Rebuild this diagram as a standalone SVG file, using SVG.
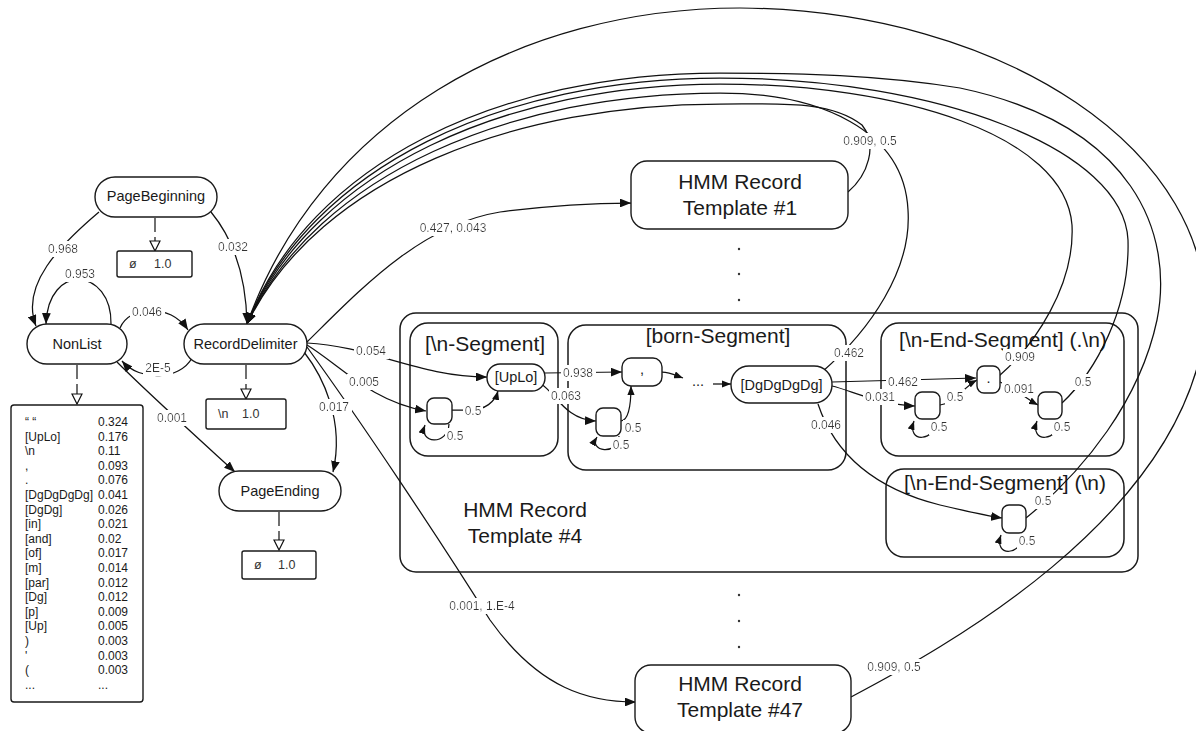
<svg xmlns="http://www.w3.org/2000/svg" width="1196" height="731" viewBox="0 0 1196 731">
<style>
  .node { fill: #fff; stroke: #1a1a1a; stroke-width: 1.4; }
  .box { fill: #fff; stroke: #1a1a1a; stroke-width: 1.4; }
  .cont { fill: none; stroke: #1a1a1a; stroke-width: 1.5; }
  .edge { fill: none; stroke: #111; stroke-width: 1.25; }
  .arr { marker-end: url(#head); }
  .sarr { marker-end: url(#shead); }
  .dash { fill: none; stroke: #111; stroke-width: 1.2; stroke-dasharray: 14 5; marker-end: url(#open); }
  text { font-family: "Liberation Sans", Arial, sans-serif; fill: #1a1a1a; }
  .nt { font-size: 14.5px; text-anchor: middle; }
  .big { font-size: 21px; text-anchor: middle; }
  .lbl { font-size: 12px; fill: #333; text-anchor: middle; filter: url(#bg); }
  .tb { font-size: 12px; fill: #333; }
  .bx { font-size: 12.5px; fill: #333; }
</style>
<defs>
  <!-- white plate behind transition labels -->
  <filter id="bg" x="-0.06" y="-0.05" width="1.12" height="1.1">
    <feFlood flood-color="#fff"/>
    <feComposite in="SourceGraphic" operator="over"/>
  </filter>
  <marker id="head" viewBox="0 0 10 8" refX="10" refY="4" markerWidth="11" markerHeight="8.8" markerUnits="userSpaceOnUse" orient="auto">
    <path d="M0,0 L10,4 L0,8 z" fill="#111"/>
  </marker>
  <marker id="shead" viewBox="0 0 10 8" refX="10" refY="4" markerWidth="9" markerHeight="7.2" markerUnits="userSpaceOnUse" orient="auto">
    <path d="M0,0 L10,4 L0,8 z" fill="#111"/>
  </marker>
  <marker id="open" viewBox="-1 -1 12 12" refX="10" refY="5" markerWidth="12" markerHeight="12" markerUnits="userSpaceOnUse" orient="auto">
    <path d="M0,0 L10,5 L0,10 z" fill="#fff" stroke="#111" stroke-width="1.2"/>
  </marker>
</defs>

<!-- containers -->
<g id="template4">
  <rect class="cont" x="400" y="313" width="738" height="259" rx="16"/>
  <text class="big" x="525" y="517">HMM Record</text>
  <text class="big" x="525" y="543">Template #4</text>
</g>
<g id="seg-newline">
  <rect class="cont" x="410" y="323" width="148" height="133" rx="18"/>
  <text class="big" x="485" y="351">[\n-Segment]</text>
</g>
<g id="seg-born">
  <rect class="cont" x="568" y="325" width="278" height="145" rx="18"/>
  <text class="big" x="718" y="343">[born-Segment]</text>
</g>
<g id="seg-end-dot">
  <rect class="cont" x="881" y="323" width="243" height="133" rx="18"/>
  <text class="big" x="1003" y="347">[\n-End-Segment] (.\n)</text>
</g>
<g id="seg-end-nl">
  <rect class="cont" x="886" y="469" width="238" height="88" rx="18"/>
  <text class="big" x="1005" y="490">[\n-End-Segment] (\n)</text>
</g>

<!-- connectors -->
<g id="connectors">
  <!-- emission links (dashed, open heads) -->
  <path class="dash" d="M155 218 L155 251"/>
  <path class="dash" d="M77 365 L77 404"/>
  <path class="dash" d="M246 365 L246 399"/>
  <path class="dash" d="M279 512 L279 550"/>

  <!-- top-level transitions -->
  <path class="edge arr" d="M99 212 C60 245, 20 285, 36 326"/>
  <path class="edge arr" d="M111 324 C112 268, 48 262, 46 324"/>
  <path class="edge arr" d="M211 212 C230 235, 246 270, 247 324"/>
  <path class="edge arr" d="M120 328 C130 305, 170 303, 188 330"/>
  <path class="edge arr" d="M192 358 C180 380, 140 382, 122 361"/>
  <path class="edge arr" d="M117 362 C150 395, 200 440, 235 472"/>
  <path class="edge arr" d="M304 352 C322 375, 345 420, 333 472"/>
  <path class="edge arr" d="M307 342 C360 290, 420 225, 500 212 C560 204, 600 203, 631 203"/>
  <path class="edge arr" d="M307 343 C370 346, 420 377, 487 377"/>
  <path class="edge arr" d="M307 345 C340 365, 370 401, 426 411"/>
  <path class="edge arr" d="M307 347 C360 420, 440 540, 490 620 C540 690, 590 702, 636 702"/>

  <!-- returns to RecordDelimiter -->
  <path class="edge arr" d="M848 192 C868 175, 878 145, 862 125 C830 100, 780 104, 720 104 C520 104, 320 175, 247 324"/>
  <path class="edge arr" d="M822 372 C870 330, 912 270, 908 210 C904 130, 820 93, 720 93 C515 93, 318 172, 247 324"/>
  <path class="edge arr" d="M999 376 C1035 345, 1075 285, 1072 225 C1065 135, 900 84, 720 84 C510 84, 315 168, 247 324"/>
  <path class="edge arr" d="M1062 403 C1095 372, 1130 310, 1128 240 C1124 150, 940 78, 720 78 C505 78, 312 165, 247 324"/>
  <path class="edge arr" d="M1026 518 C1085 470, 1140 400, 1157 320 C1174 235, 1135 125, 960 88 C880 75, 800 73, 720 73 C500 73, 310 162, 247 324"/>
  <path class="edge arr" d="M851 697 C940 650, 1180 520, 1205 330 C1220 150, 1000 10, 740 8 C520 8, 320 120, 247 324"/>

  <!-- [\n-Segment] -->
  <path class="edge sarr" d="M452 410 L470 410 C485 410, 495 402, 498 391"/>
  <path class="edge sarr" d="M449 424 C448 446, 418 444, 425 425"/>

  <!-- [born-Segment] -->
  <path class="edge arr" d="M545 373 L622 372"/>
  <path class="edge arr" d="M541 384 C555 392, 565 420, 596 421"/>
  <path class="edge sarr" d="M621 421 C630 420, 631 400, 631 386"/>
  <path class="edge sarr" d="M619 436 C618 456, 588 452, 597 437"/>
  <path class="edge sarr" d="M662 372 C670 372, 675 375, 683 378"/>
  <path class="edge sarr" d="M713 384 L731 384"/>

  <!-- [\n-End-Segment] (.\n) -->
  <path class="edge arr" d="M832 382 L976 378"/>
  <path class="edge arr" d="M832 386 C850 390, 880 405, 915 406"/>
  <path class="edge sarr" d="M940 405 C955 404, 962 388, 977 380"/>
  <path class="edge sarr" d="M937 419 C936 442, 906 444, 914 421"/>
  <path class="edge sarr" d="M1000 382 C1015 388, 1025 398, 1038 405"/>
  <path class="edge sarr" d="M1060 419 C1059 442, 1029 444, 1037 421"/>

  <!-- [\n-End-Segment] (\n) -->
  <path class="edge arr" d="M818 404 C830 440, 860 485, 940 505 C970 512, 988 516, 1002 518"/>
  <path class="edge sarr" d="M1024 533 C1023 556, 993 558, 1001 535"/>

  <!-- transition labels -->
  <text class="lbl" x="63" y="253">0.968</text>
  <text class="lbl" x="80" y="278">0.953</text>
  <text class="lbl" x="233" y="251">0.032</text>
  <text class="lbl" x="147" y="316">0.046</text>
  <text class="lbl" x="158" y="372">2E-5</text>
  <text class="lbl" x="172" y="422">0.001</text>
  <text class="lbl" x="334" y="411">0.017</text>
  <text class="lbl" x="371" y="355">0.054</text>
  <text class="lbl" x="364" y="386">0.005</text>
  <text class="lbl" x="453" y="232">0.427, 0.043</text>
  <text class="lbl" x="482" y="610">0.001, 1.E-4</text>
  <text class="lbl" x="870" y="145">0.909, 0.5</text>
  <text class="lbl" x="894" y="671">0.909, 0.5</text>
  <text class="lbl" x="849" y="357">0.462</text>
  <text class="lbl" x="473" y="415">0.5</text>
  <text class="lbl" x="455" y="440">0.5</text>
  <text class="lbl" x="578" y="377">0.938</text>
  <text class="lbl" x="566" y="400">0.063</text>
  <text class="lbl" x="633" y="432">0.5</text>
  <text class="lbl" x="621" y="449">0.5</text>
  <text class="lbl" x="903" y="386">0.462</text>
  <text class="lbl" x="880" y="401">0.031</text>
  <text class="lbl" x="955" y="401">0.5</text>
  <text class="lbl" x="939" y="431">0.5</text>
  <text class="lbl" x="1020" y="361">0.909</text>
  <text class="lbl" x="1019" y="393">0.091</text>
  <text class="lbl" x="1083" y="386">0.5</text>
  <text class="lbl" x="1062" y="431">0.5</text>
  <text class="lbl" x="826" y="429">0.046</text>
  <text class="lbl" x="1043" y="505">0.5</text>
  <text class="lbl" x="1027" y="545">0.5</text>
</g>

<!-- top-level states -->
<g id="PageBeginning">
  <rect class="node" x="95" y="177" width="122" height="40" rx="20"/>
  <text class="nt" x="156" y="201">PageBeginning</text>
</g>
<g id="emit-begin">
  <rect class="box" x="117" y="251" width="75" height="26" rx="2"/>
  <text class="bx" x="129" y="268">ø</text>
  <text class="bx" x="154" y="268">1.0</text>
</g>
<g id="NonList">
  <rect class="node" x="27" y="324" width="100" height="40" rx="20"/>
  <text class="nt" x="77" y="349">NonList</text>
</g>
<g id="RecordDelimiter">
  <rect class="node" x="184" y="324" width="123" height="40" rx="20"/>
  <text class="nt" x="245.5" y="349">RecordDelimiter</text>
</g>
<g id="emit-delim">
  <rect class="box" x="206" y="399" width="80" height="30" rx="2"/>
  <text class="bx" x="218" y="418">\n</text>
  <text class="bx" x="242" y="418">1.0</text>
</g>
<g id="PageEnding">
  <rect class="node" x="219" y="471" width="122" height="40" rx="20"/>
  <text class="nt" x="280" y="496">PageEnding</text>
</g>
<g id="emit-end">
  <rect class="box" x="242" y="551" width="74" height="28" rx="2"/>
  <text class="bx" x="254" y="569">ø</text>
  <text class="bx" x="278" y="569">1.0</text>
</g>
<g id="emit-nonlist">
  <rect class="box" x="11" y="405" width="132" height="297" rx="3"/>
  <g class="tb">
    <text x="25" y="426">“ “</text><text x="98" y="426">0.324</text>
    <text x="25" y="441">[UpLo]</text><text x="98" y="441">0.176</text>
    <text x="25" y="455">\n</text><text x="98" y="455">0.11</text>
    <text x="25" y="470">,</text><text x="98" y="470">0.093</text>
    <text x="25" y="484">.</text><text x="98" y="484">0.076</text>
    <text x="25" y="499">[DgDgDgDg]</text><text x="98" y="499">0.041</text>
    <text x="25" y="514">[DgDg]</text><text x="98" y="514">0.026</text>
    <text x="25" y="528">[in]</text><text x="98" y="528">0.021</text>
    <text x="25" y="543">[and]</text><text x="98" y="543">0.02</text>
    <text x="25" y="557">[of]</text><text x="98" y="557">0.017</text>
    <text x="25" y="572">[m]</text><text x="98" y="572">0.014</text>
    <text x="25" y="587">[par]</text><text x="98" y="587">0.012</text>
    <text x="25" y="601">[Dg]</text><text x="98" y="601">0.012</text>
    <text x="25" y="616">[p]</text><text x="98" y="616">0.009</text>
    <text x="25" y="630">[Up]</text><text x="98" y="630">0.005</text>
    <text x="25" y="645">)</text><text x="98" y="645">0.003</text>
    <text x="25" y="660">'</text><text x="98" y="660">0.003</text>
    <text x="25" y="674">(</text><text x="98" y="674">0.003</text>
    <text x="25" y="689">...</text><text x="98" y="689">...</text>
  </g>
</g>

<!-- record templates -->
<g id="template1">
  <rect class="node" x="631" y="161" width="217" height="68" rx="16"/>
  <text class="big" x="740" y="189">HMM Record</text>
  <text class="big" x="740" y="215">Template #1</text>
</g>
<g id="dots-upper" fill="#333">
  <circle cx="739" cy="249" r="1.2"/>
  <circle cx="739" cy="274" r="1.2"/>
  <circle cx="739" cy="300" r="1.2"/>
</g>
<g id="dots-lower" fill="#333">
  <circle cx="739" cy="595" r="1.2"/>
  <circle cx="739" cy="621" r="1.2"/>
  <circle cx="739" cy="647" r="1.2"/>
</g>
<g id="template47">
  <rect class="node" x="635" y="665" width="216" height="68" rx="16"/>
  <text class="big" x="740" y="691">HMM Record</text>
  <text class="big" x="740" y="717">Template #47</text>
</g>

<!-- segment states -->
<g id="n-seg-gap">
  <rect class="node" x="427" y="398" width="25" height="26" rx="7"/>
</g>
<g id="n-seg-uplo">
  <rect class="node" x="487" y="364" width="58" height="27" rx="13"/>
  <text class="nt" x="516" y="382">[UpLo]</text>
</g>
<g id="born-gap">
  <rect class="node" x="596" y="408" width="25" height="28" rx="7"/>
</g>
<g id="born-comma">
  <rect class="node" x="622" y="358" width="40" height="28" rx="9"/>
  <text class="nt" x="642" y="374">,</text>
</g>
<g id="born-ellipsis">
  <text class="nt" x="698" y="386">...</text>
</g>
<g id="born-digits">
  <rect class="node" x="731" y="366" width="101" height="37" rx="18"/>
  <text class="nt" x="781.5" y="390">[DgDgDgDg]</text>
</g>
<g id="end-dot-gap1">
  <rect class="node" x="915" y="392" width="25" height="27" rx="7"/>
</g>
<g id="end-dot-period">
  <rect class="node" x="977" y="366" width="23" height="27" rx="7"/>
  <text class="nt" x="988.5" y="383">.</text>
</g>
<g id="end-dot-gap2">
  <rect class="node" x="1038" y="392" width="24" height="27" rx="7"/>
</g>
<g id="end-nl-gap">
  <rect class="node" x="1002" y="505" width="24" height="28" rx="7"/>
</g>
</svg>
